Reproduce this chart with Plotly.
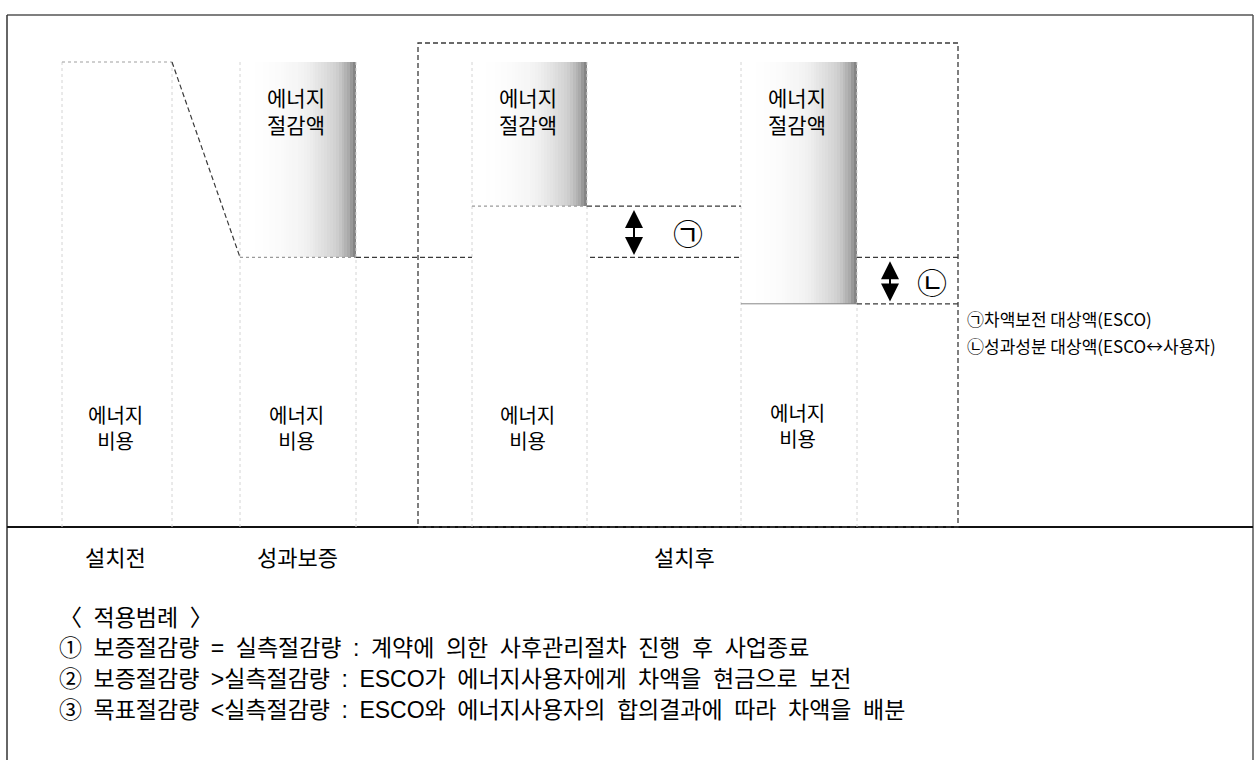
import numpy as np
import plotly.graph_objects as go

# ---------------- data ----------------
stage_labels = ["설치전", "성과보증", "설치후"]
columns = ["설치전", "성과보증", "설치후 ①", "설치후 ②"]
energy_cost = [100, 58, 69, 48]      # 에너지 비용 (relative level)
energy_saving = [0, 42, 31, 52]      # 에너지 절감액 (relative level)
saving_label = ["에너지", "절감액"]
cost_label = ["에너지", "비용"]
gap_marks = ["㉠", "㉡"]
right_notes = ["㉠차액보전 대상액(ESCO)", "㉡성과성분 대상액(ESCO↔사용자)"]
legend_title = "〈 적용범례 〉"
legend_lines = [
    "① 보증절감량 = 실측절감량 : 계약에 의한 사후관리절차 진행 후 사업종료",
    "② 보증절감량 >실측절감량 : ESCO가 에너지사용자에게 차액을 현금으로 보전",
    "③ 목표절감량 <실측절감량 : ESCO와 에너지사용자의 합의결과에 따라 차액을 배분",
]

# ---------------- layout constants ----------------
W, H = 1256, 760
BASE_PX, TOP_PX = 527, 62
PPU = (BASE_PX - TOP_PX) / 100.0


def yp(p):
    return (BASE_PX - p) / PPU


col_x = [(62, 172), (240, 356), (472, 587), (741, 857)]
FONT = "Liberation Sans, Noto Sans CJK KR, sans-serif"
CJK = "Noto Sans CJK KR, sans-serif"
DARK = "#3a3a3a"
FAINT = "#d4d4d4"
DASH = "5px,3px"
WIDE = "\u2002"

fig = go.Figure()

# gradient shaded savings boxes
N = 40
t = np.linspace(0, 1, N)
for i in range(1, 4):
    x0, x1 = col_x[i]
    lo = energy_cost[i]
    hi = energy_cost[i] + energy_saving[i]
    fig.add_trace(go.Heatmap(
        x=np.linspace(x0, x1, N + 1), y=[lo, hi], z=[t ** 2.0],
        zmin=0, zmax=1, showscale=False, hoverinfo="skip",
        colorscale=[[0, "#ffffff"], [0.3, "#f3f3f3"], [0.7, "#d0d0d0"], [0.9, "#aaaaaa"], [1, "#858585"]],
    ))

shapes = []


def line(x0, y0, x1, y1, color=DARK, dash=DASH, width=1.3):
    shapes.append(dict(type="line", xref="x", yref="y", x0=x0, y0=y0, x1=x1, y1=y1,
                       line=dict(color=color, dash=dash, width=width)))


# outer frame
line(7, yp(15), 1253, yp(15), color="#555", dash="solid", width=1.5)
line(7, yp(15), 7, yp(760), color="#333", dash="solid", width=1.5)
line(1253, yp(15), 1253, yp(760), color="#555", dash="solid", width=1.5)
# baseline
line(7, 0, 1253, 0, color="#111", dash="solid", width=2)

# faint column edges
for i, (x0, x1) in enumerate(col_x):
    top = energy_cost[i] + energy_saving[i]
    line(x0, 0, x0, top, color=FAINT, dash="dot", width=1)
    line(x1, 0, x1, top, color=FAINT, dash="dot", width=1)

# 설치전 top and slope to guarantee level
line(col_x[0][0], energy_cost[0], col_x[0][1], energy_cost[0], color="#a0a0a0", dash="dot", width=1.2)
line(col_x[0][1], energy_cost[0], col_x[1][0], energy_cost[1], color=DARK, dash=DASH, width=1.2)

# box bottoms (light)
line(col_x[1][0], energy_cost[1], col_x[1][1], energy_cost[1], color="#9a9a9a", dash="dot", width=1.2)
line(col_x[2][0], energy_cost[2], col_x[2][1], energy_cost[2], color="#9a9a9a", dash="dot", width=1.2)
line(col_x[3][0], energy_cost[3], col_x[3][1], energy_cost[3], color="#888", dash="solid", width=1)

# guarantee level dashed through
line(col_x[1][1], energy_cost[1], col_x[2][0], energy_cost[1])
line(col_x[2][1] + 3, energy_cost[1], col_x[3][0], energy_cost[1])
line(col_x[2][1], energy_cost[2], col_x[3][0], energy_cost[2])
# case ② gap lines
line(col_x[3][1], energy_cost[1], 958, energy_cost[1])
line(col_x[3][1], energy_cost[3], 958, energy_cost[3])

# big dashed frame for 설치후
shapes.append(dict(type="rect", xref="x", yref="y", x0=418, x1=958, y0=0, y1=yp(43),
                   line=dict(color=DARK, dash=DASH, width=1.3)))

fig.update_layout(shapes=shapes)

# double arrows for the gaps
gap_pairs = [(energy_cost[1], energy_cost[2]), (energy_cost[3], energy_cost[1])]
arrow_x = [634, 890]
mark_x = [688, 932]
for k in range(2):
    lo, hi = gap_pairs[k]
    fig.add_annotation(x=arrow_x[k], y=lo + 0.5, ax=arrow_x[k], ay=hi - 0.5,
                       xref="x", yref="y", axref="x", ayref="y", text="",
                       showarrow=True, arrowhead=2, arrowside="end+start",
                       arrowsize=1.8, arrowwidth=2, arrowcolor="black")
    fig.add_annotation(x=mark_x[k], y=(lo + hi) / 2, xref="x", yref="y", text=gap_marks[k],
                       showarrow=False, font=dict(family=CJK, size=30, color="black"))

# labels in columns (two-line labels as single texts)
for i, (x0, x1) in enumerate(col_x):
    cx = (x0 + x1) / 2 - 2 if i > 0 else 115
    if energy_saving[i] > 0:
        fig.add_annotation(x=cx, y=yp(112), xref="x", yref="y", text="<br>".join(saving_label),
                           showarrow=False, font=dict(family=FONT, size=21, color="black"))
    base_y = 429 if i < 3 else 427
    fig.add_annotation(x=cx, y=yp(base_y), xref="x", yref="y", text="<br>".join(cost_label),
                       showarrow=False, font=dict(family=FONT, size=20, color="black"))

# right notes
for j, s in enumerate(right_notes):
    fig.add_annotation(x=965, y=yp(318 + 27 * j), xref="x", yref="y", text=s, xanchor="left",
                       showarrow=False, font=dict(family=CJK, size=17, color="black"))

# stage labels below baseline
stage_x = [115, 297, 684]
for s, x in zip(stage_labels, stage_x):
    fig.add_annotation(x=x, y=yp(558), xref="x", yref="y", text=s, showarrow=False,
                       font=dict(family=FONT, size=22, color="black"))

# legend of application
legend_y = [618, 648, 679, 710]
for s, ypx in zip([legend_title] + legend_lines, legend_y):
    fig.add_annotation(x=57, y=yp(ypx), xref="x", yref="y", text=s.replace(" ", WIDE),
                       xanchor="left", showarrow=False,
                       font=dict(family=FONT, size=23, color="black"))

fig.update_layout(
    width=W, height=H, margin=dict(l=0, r=0, t=0, b=0),
    paper_bgcolor="white", plot_bgcolor="white", showlegend=False,
    xaxis=dict(range=[0, W], visible=False, fixedrange=True),
    yaxis=dict(range=[yp(H), yp(0)], visible=False, fixedrange=True),
)

fig.write_html("out.html", config={"displayModeBar": False},
               post_script="document.body.style.margin='0';document.body.style.overflow='hidden';")
